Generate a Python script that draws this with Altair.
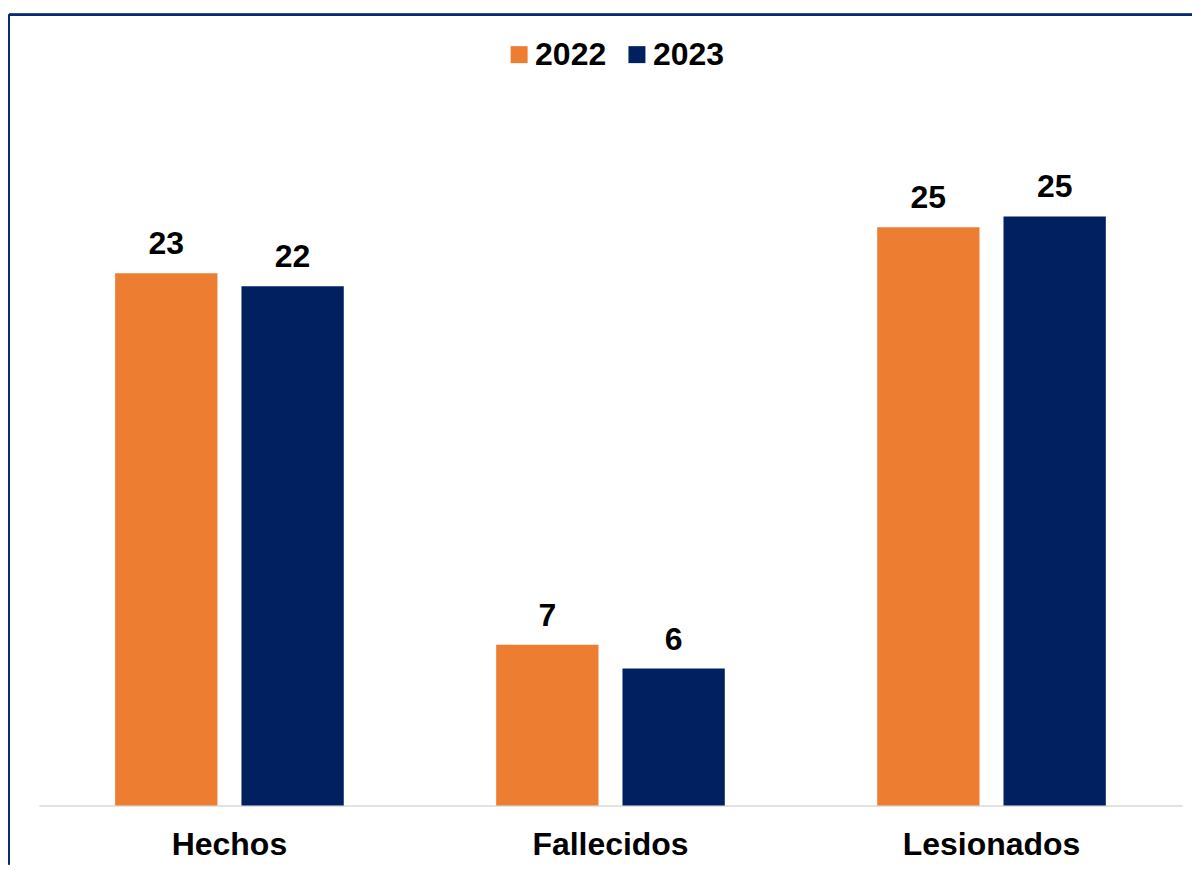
import altair as alt
import pandas as pd

categories = ["Hechos", "Fallecidos", "Lesionados"]
years = ["2022", "2023"]
values_2022 = [22.88, 6.91, 24.85]
values_2023 = [22.32, 5.88, 25.32]
colors = ["#ED7D31", "#002060"]
border_color = "#0B2A6F"

rows = []
for i, c in enumerate(categories):
    rows.append({"categoria": c, "anio": years[0], "valor": values_2022[i]})
    rows.append({"categoria": c, "anio": years[1], "valor": values_2023[i]})
df = pd.DataFrame(rows)

FONT = "Liberation Sans"
FS = 32
W, H = 1185, 851

x = alt.X(
    "categoria:N", sort=categories, title=None,
    scale=alt.Scale(range=[30, 1175], paddingInner=0.4, paddingOuter=0.2),
    axis=alt.Axis(offset=-59, domainColor="#d9d9d9", domainWidth=1.5, ticks=False,
                  labelFont=FONT, labelFontSize=FS, labelFontWeight="bold",
                  labelColor="black", labelPadding=24, labelAngle=0, grid=False),
)
xo = alt.XOffset("anio:N", sort=years, scale=alt.Scale(paddingInner=0.19, paddingOuter=0))
y = alt.Y("valor:Q", scale=alt.Scale(domain=[0, 30], range=[792, 93]), axis=None)

color = alt.Color(
    "anio:N", sort=years,
    scale=alt.Scale(domain=years, range=colors),
    legend=alt.Legend(orient="none", legendX=495, legendY=24, direction="horizontal",
                      title=None, symbolType="square", symbolSize=289, symbolStrokeWidth=0,
                      labelFont=FONT, labelFontSize=FS, labelFontWeight="bold",
                      labelColor="black", labelOffset=0, columnPadding=14, padding=0),
)

bars = alt.Chart(df).mark_bar().encode(x=x, xOffset=xo, y=y, color=color)
labels = alt.Chart(df).mark_text(
    dy=-19, baseline="alphabetic", fontSize=FS, fontWeight="bold", font=FONT, color="black"
).encode(x=x, xOffset=xo, y=y, text=alt.Text("valor:Q", format=".0f"))

# frame: top and left edges of the chart border (the rest lies outside the picture)
frame_top = alt.Chart(df).mark_rule(color=border_color, strokeWidth=2).encode(
    x=alt.value(0), x2=alt.value(W), y=alt.value(0)
)
frame_left = alt.Chart(df).mark_rule(color=border_color, strokeWidth=2).encode(
    x=alt.value(0), y=alt.value(0), y2=alt.value(H)
)

chart = alt.layer(bars, labels, frame_top, frame_left).properties(
    width=W, height=H,
    padding={"left": 0, "top": 5, "right": 0, "bottom": 0},
    background="white",
).configure_view(strokeWidth=0)

chart.save("out.html", embed_options={"renderer": "svg", "actions": False})
